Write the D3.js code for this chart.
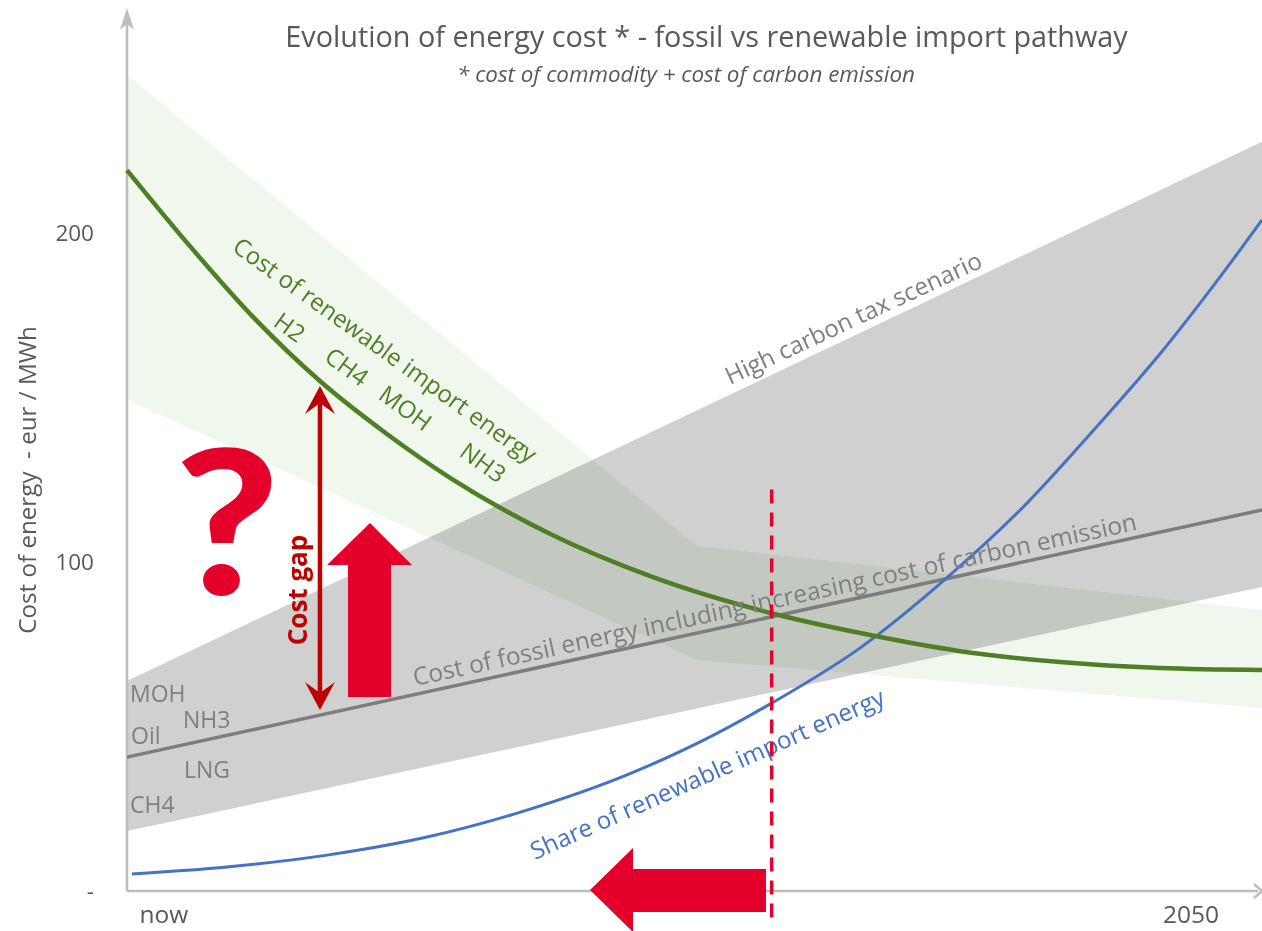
<!DOCTYPE html>
<html>
<head>
<meta charset="utf-8">
<script src="https://cdn.jsdelivr.net/npm/d3@7"></script>
<style>
  html, body { margin: 0; padding: 0; background: #fff; }
  svg { display: block; font-family: "Open Sans", sans-serif; }
</style>
</head>
<body>
<div id="chart"></div>
<script>
// Horizontal position runs 0 (now) to 100 (2050 side of the frame); vertical is eur / MWh.
const greenBandX = [0, 50.2, 100];
const greenBandHigh = [248, 104.9, 85.4];
const greenBandLow = [149.5, 70.2, 55.6];

const greyBandX = [0, 100];
const greyBandHigh = [63.8, 227.7];
const greyBandLow = [18.2, 92.4];

const fossilX = [0, 100];
const fossilCost = [40.7, 115.8];

const renewableX = [0, 5.3, 11.1, 17, 22.9, 28.5, 37.3, 46.1, 56.7, 64.6, 73.4, 82.2, 91, 100];
const renewableCost = [219.1, 197, 174.5, 155, 138.9, 125.5, 108.5, 95.7, 84.5, 78.4, 72.9, 69.6, 67.8, 67.2];

const shareX = [0.44, 8.81, 17.62, 26.43, 35.24, 44.05, 50.5, 56.8, 64.6, 72.2, 79.3, 85.1, 91, 96.9, 100];
const shareValue = [5.2, 7.3, 10.9, 16.4, 24.6, 35.3, 45.3, 57.1, 73.9, 95.1, 117.9, 139.8, 163.2, 189.4, 204];

const yTicks = [200, 100, 0];
const xTickValues = [3.2, 93.7];
const xTickLabels = ["now", "2050"];

const tippingX = 56.8;
const tippingRange = [122, -10.5];
const gapX = 17;
const gapRange = [153.5, 55];

const width = 1262, height = 931;
const x = d3.scaleLinear().domain([0, 100]).range([127, 1262]);
const y = d3.scaleLinear().domain([0, 200]).range([891, 233]);

const svg = d3.select("#chart").append("svg").attr("width", width).attr("height", height);
const axisGrey = "#bdbdbd", textGrey = "#595959", labelGrey = "#7f7f7f";
const green = "#4f7f25", blue = "#4472c4", signal = "#e4002b", gapRed = "#c00000";

// Bands
const band = (xs, hi, lo) => d3.area().x((d, i) => x(xs[i])).y0((d, i) => y(lo[i])).y1((d, i) => y(hi[i]))(xs);
svg.append("path").attr("d", band(greyBandX, greyBandHigh, greyBandLow)).attr("fill", "#d0d0d0");
svg.append("path").attr("d", band(greenBandX, greenBandHigh, greenBandLow))
  .attr("fill", "#f0f7ec").style("mix-blend-mode", "multiply");

// Axes
const yAxis = svg.append("g").attr("transform", `translate(${x(0)},0)`)
  .call(d3.axisLeft(y).tickValues(yTicks).tickSize(0).tickPadding(33)
    .tickFormat(d => d === 0 ? "-" : d));
const xAxis = svg.append("g").attr("transform", `translate(0,${y(0)})`)
  .call(d3.axisBottom(x).tickValues(xTickValues).tickSize(0).tickPadding(15)
    .tickFormat((d, i) => xTickLabels[i]));
[yAxis, xAxis].forEach(a => {
  a.select(".domain").remove();
  a.selectAll("text").attr("font-family", '"Open Sans", sans-serif').attr("fill", textGrey);
});
yAxis.selectAll("text").attr("font-size", 22.5);
xAxis.selectAll("text").attr("font-size", 24.5);
svg.append("line").attr("x1", x(0)).attr("x2", x(0)).attr("y1", y(0)).attr("y2", 14)
  .attr("stroke", axisGrey).attr("stroke-width", 2.5);
svg.append("path").attr("d", d3.line()([[x(0) - 7, 30], [x(0), 8], [x(0) + 7, 30], [x(0), 24]]) + "Z").attr("fill", axisGrey);
svg.append("line").attr("x1", x(0)).attr("x2", 1258).attr("y1", y(0)).attr("y2", y(0))
  .attr("stroke", axisGrey).attr("stroke-width", 2.5);
svg.append("path").attr("d", d3.line()([[1254, y(0) - 7], [1262, y(0)], [1254, y(0) + 7]]))
  .attr("fill", "none").attr("stroke", axisGrey).attr("stroke-width", 2.5);

// Lines
const curve = (xs, vs) => d3.line().curve(d3.curveMonotoneX).x((d, i) => x(xs[i])).y((d, i) => y(vs[i]))(xs);
svg.append("path").attr("d", curve(fossilX, fossilCost)).attr("fill", "none").attr("stroke", "#7d7d7d").attr("stroke-width", 3.5);
svg.append("path").attr("d", curve(shareX, shareValue)).attr("fill", "none").attr("stroke", blue).attr("stroke-width", 3);
svg.append("path").attr("d", curve(renewableX, renewableCost)).attr("fill", "none").attr("stroke", green).attr("stroke-width", 4.5);

// Header
const label = (txt, px, py, size, fill, opts = {}) => svg.append("text")
  .attr("transform", `translate(${px},${py}) rotate(${opts.angle || 0}) scale(${opts.stretch || 1},1)`)
  .attr("font-size", size).attr("fill", fill)
  .attr("font-family", opts.family || null)
  .attr("font-style", opts.italic ? "italic" : null)
  .attr("font-weight", opts.weight || null)
  .attr("text-anchor", opts.anchor || "start")
  .text(txt);

label("Evolution of energy cost * - fossil vs renewable import pathway", 706.5, 47, 28.8, textGrey, { anchor: "middle" });
label("* cost of commodity + cost of carbon emission", 686, 82, 22.4, textGrey, { anchor: "middle", italic: true });
label("Cost of energy  - eur / MWh", 36, 480, 24.2, textGrey, { anchor: "middle", angle: -90 }).style("white-space", "pre");

// Curve captions
label("Cost of renewable import energy", 231, 250, 24, green, { angle: 35.7 });
label("H2", 272, 325, 24, green, { angle: 36 });
label("CH4", 323, 360, 24, green, { angle: 36 });
label("MOH", 377, 398, 24, green, { angle: 36 });
label("NH3", 458, 455, 24, green, { angle: 36 });
label("High carbon tax scenario", 730, 385, 24.2, labelGrey, { angle: -25 });
label("Cost of fossil energy including increasing cost of carbon emission", 415, 686, 24.5, labelGrey, { angle: -12.2 });
label("Share of renewable import energy", 535, 860, 24.2, blue, { angle: -24 });
label("MOH", 130, 702, 23, labelGrey);
label("Oil", 131, 744, 23, labelGrey);
label("NH3", 183, 728, 23, labelGrey);
label("LNG", 184, 778, 23, labelGrey);
label("CH4", 130, 813, 23, labelGrey);

// Tipping-point marker
svg.append("line").attr("x1", x(tippingX)).attr("x2", x(tippingX))
  .attr("y1", y(tippingRange[0])).attr("y2", y(tippingRange[1]))
  .attr("stroke", signal).attr("stroke-width", 3.5).attr("stroke-dasharray", "14 9");

// Double-headed cost gap arrow
const gx = x(gapX), gTop = y(gapRange[0]), gBot = y(gapRange[1]);
svg.append("line").attr("x1", gx).attr("x2", gx).attr("y1", gTop + 10).attr("y2", gBot - 10)
  .attr("stroke", gapRed).attr("stroke-width", 4.5);
svg.append("path").attr("d", `M${gx},${gTop}L${gx + 15},${gTop + 28}L${gx},${gTop + 17}L${gx - 15},${gTop + 28}Z`).attr("fill", gapRed);
svg.append("path").attr("d", `M${gx},${gBot}L${gx + 15},${gBot - 28}L${gx},${gBot - 17}L${gx - 15},${gBot - 28}Z`).attr("fill", gapRed);
label("Cost gap", 307, 590, 26, gapRed, { anchor: "middle", angle: -90, weight: 700 });

// Block arrows and question mark
svg.append("path").attr("d", "M370,523L412,565H391V697H348V565H327Z").attr("fill", signal);
svg.append("path").attr("d", "M590,890L633,848V869H766V912H633V932Z").attr("fill", signal);
label("?", 227, 595, 200, signal, { anchor: "middle", weight: 900, family: "Lato, sans-serif", stretch: 1.13 });
</script>
</body>
</html>
